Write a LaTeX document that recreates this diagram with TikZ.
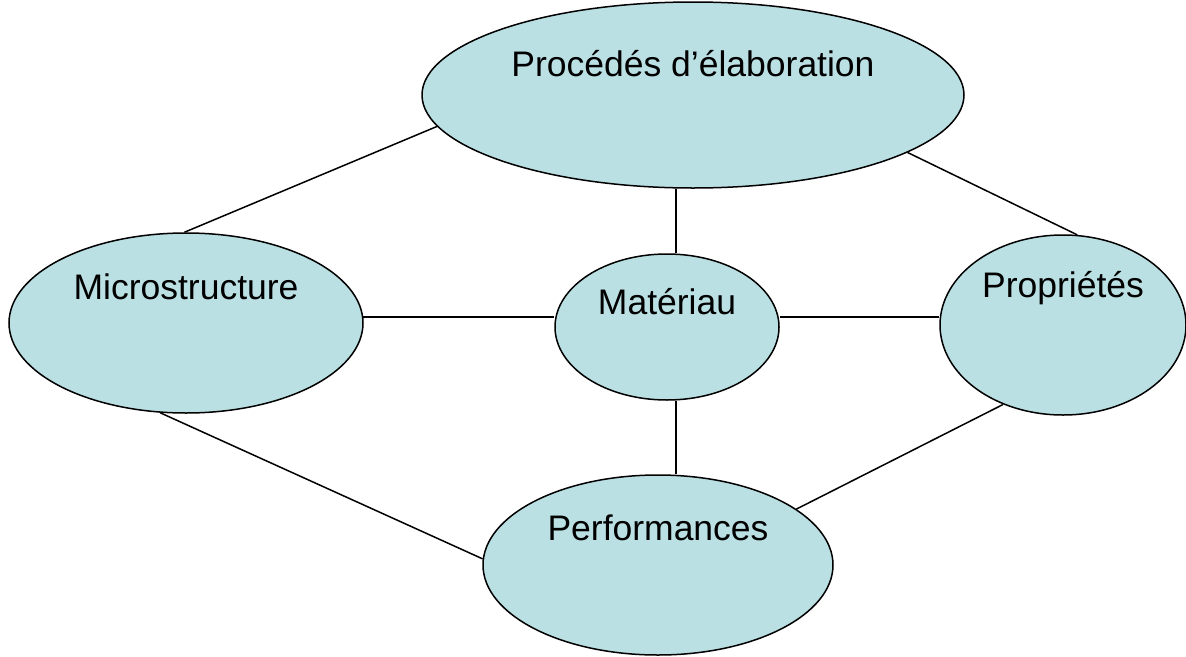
\documentclass[tikz,border=0pt]{standalone}
\usepackage{fontspec}
\setmainfont{Liberation Sans}
\usepackage{xcolor}
\usepackage{tikz}
\usetikzlibrary{shapes.geometric, backgrounds, calc}
\definecolor{blobfill}{HTML}{BAE0E3}
\tikzset{
  blob/.style={ellipse, draw=black, line width=1.5pt, fill=blobfill, inner sep=0pt},
  word/.style={font=\fontsize{35.5}{40}\selectfont, inner sep=0pt, text=black},
  link/.style={line width=1.5pt, draw=black},
}

\begin{document}
\begin{tikzpicture}[x=1pt, y=-1pt]
  \useasboundingbox (0,0) rectangle (1186,656);
  \node[blob, minimum width=542pt, minimum height=186pt] (proc) at (693,95) {};
  \node[blob, minimum width=354pt, minimum height=180pt] (micro) at (186,323) {};
  \node[blob, minimum width=224pt, minimum height=146pt] (mat) at (667,327) {};
  \node[blob, minimum width=246pt, minimum height=180pt] (prop) at (1063,325) {};
  \node[blob, minimum width=350pt, minimum height=180pt] (perf) at (658,565) {};

  \node[word] (proc-t) at ($(proc)+(0,-31)$) {Procédés d’élaboration};
  \node[word] (micro-t) at ($(micro)+(0,-36)$) {Microstructure};
  \node[word] (mat-t) at ($(mat)+(0,-25)$) {Matériau};
  \node[word] (prop-t) at ($(prop)+(0,-37)$) {Propriétés};
  \node[word] (perf-t) at ($(perf)+(0,-37)$) {Performances};

  \begin{scope}[on background layer]
    \draw[link] (proc.187) -- (micro.91);
    \draw[link] (proc.-15) -- (prop.81);
    \draw[link] ([xshift=9pt]mat.north) -- ([xshift=9pt]mat.north |- proc.south);
    \draw[link] (micro.2) -- (micro.2 -| mat.west);
    \draw[link] (mat.east |- micro.2) -- (prop.west |- micro.2);
    \draw[link] ([xshift=9pt]mat.south) -- ([xshift=9pt]mat.south |- perf.north);
    \draw[link] (micro.254) -- (perf.178);
    \draw[link] (prop.233) -- (perf.22);
  \end{scope}
\end{tikzpicture}
\end{document}
